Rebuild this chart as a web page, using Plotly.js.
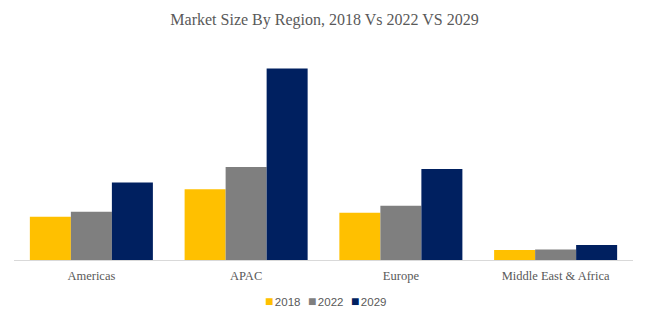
<!DOCTYPE html>
<html>
<head>
<meta charset="utf-8">
<script src="https://cdn.plot.ly/plotly-3.0.1.min.js"></script>
<style>html,body{margin:0;padding:0;background:#fff;}#chart{width:649px;height:322px;}</style>
</head>
<body>
<div id="chart"></div>
<script>
const regions = ["Americas", "APAC", "Europe", "Middle East & Africa"];
const years = ["2018", "2022", "2029"];
const values2018 = [43.5, 71, 47.5, 10];
const values2022 = [48.5, 93.5, 54.5, 10.5];
const values2029 = [78, 192.5, 91.5, 15];
const colors = ["#FFC000", "#7F7F7F", "#002060"];

const series = [values2018, values2022, values2029];
const traces = series.map((vals, i) => ({
  type: "bar",
  name: years[i],
  x: regions,
  y: vals,
  marker: {color: colors[i], line: {width: 0}},
  hoverinfo: "x+y+name"
}));

// Compact legend drawn as text entries (coloured square + year)
const legendX = [0.402, 0.472, 0.541];
const annotations = years.map((yr, i) => ({
  xref: "paper", yref: "paper",
  x: legendX[i], y: -0.205, xanchor: "left", yanchor: "middle",
  showarrow: false,
  text: "<span style='color:" + colors[i] + ";font-size:14px'>■</span><span style='font-size:5px'> </span>" + yr,
  font: {family: "'Liberation Sans', Arial, sans-serif", size: 11.5, color: "#595959"}
}));

const layout = {
  width: 649,
  height: 322,
  margin: {l: 14, r: 16, t: 60.5, b: 61.5},
  paper_bgcolor: "#ffffff",
  plot_bgcolor: "#ffffff",
  barmode: "group",
  bargap: 0.205,
  bargroupgap: 0,
  title: {
    text: "Market Size By Region, 2018 Vs 2022 VS 2029",
    font: {family: "'Palatino Linotype', 'Book Antiqua', 'Liberation Serif', serif", size: 16, color: "#595959"},
    x: 0.5, xanchor: "center", y: 0.94, yanchor: "middle"
  },
  xaxis: {
    showgrid: false,
    showline: true,
    linecolor: "#D9D9D9",
    linewidth: 1,
    ticks: "",
    tickfont: {family: "'Palatino Linotype', 'Book Antiqua', 'Liberation Serif', serif", size: 12.5, color: "#595959"},
    ticklabelstandoff: 4,
    fixedrange: true
  },
  yaxis: {
    range: [0, 200],
    visible: false,
    showgrid: false,
    zeroline: false,
    fixedrange: true
  },
  showlegend: false,
  annotations: annotations
};

Plotly.newPlot("chart", traces, layout, {displayModeBar: false, staticPlot: true});
</script>
</body>
</html>
